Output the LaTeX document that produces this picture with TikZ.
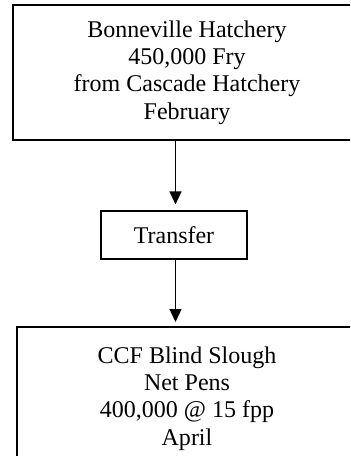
\documentclass[tikz,border=0pt]{standalone}
\usepackage{fontspec}
\setmainfont{Liberation Serif}
\usetikzlibrary{arrows.meta}
\tikzset{
  bigbox/.style={draw, line width=1.5pt, align=center, inner sep=0pt,
    font=\fontsize{18}{20.4}\selectfont},
  smallbox/.style={draw, line width=0.9pt, align=center, inner sep=0pt,
    font=\fontsize{18}{20.4}\selectfont},
  arr/.style={line width=1pt, -{Triangle[width=9pt,length=9.75pt]}}
}
\begin{document}
\begin{tikzpicture}[x=0.75pt,y=-0.75pt]
\useasboundingbox (0,0) rectangle (350,456);
\clip (0,0) rectangle (350,456);
\node[bigbox, minimum width=348*0.75pt, minimum height=135*0.75pt] (b1) at (187,72.5)
  {Bonneville Hatchery\\450,000 Fry\\from Cascade Hatchery\\February};
\node[smallbox, minimum width=146*0.75pt, minimum height=48*0.75pt] (t) at (174,235)
  {Transfer};
\node[bigbox, minimum width=341*0.75pt, minimum height=143*0.75pt] (b3) at (187,398.5)
  {CCF Blind Slough\\Net Pens\\400,000 @ 15 fpp\\April};
\coordinate (ax) at (175.5,0);
\draw[arr, shorten >=4.5pt] (b1.south -| ax) -- (t.north -| ax);
\draw[arr, shorten >=3pt] (t.south -| ax) -- (b3.north -| ax);
\end{tikzpicture}
\end{document}
